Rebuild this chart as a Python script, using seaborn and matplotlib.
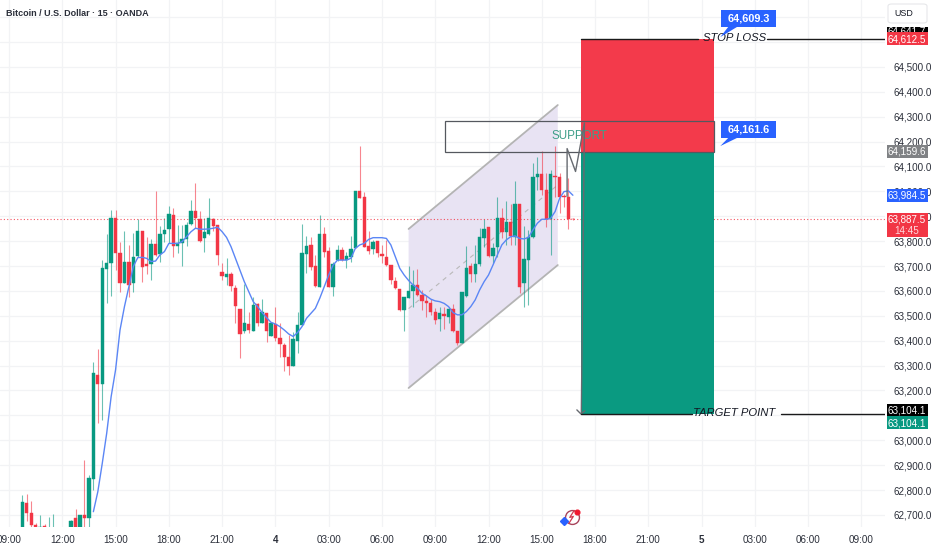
import matplotlib
matplotlib.use('Agg')
import matplotlib.pyplot as plt
from matplotlib.patches import Rectangle, Polygon, FancyBboxPatch
import numpy as np
import pandas as pd
import seaborn as sns

# candles, 15 min bars counted from the first 09:00 tick
first_bar = 3
opens = [62640, 62747, 62706, 62660, 62640, 62656, 62620, 62625, 62590, 62600, 62600,
         62640, 62686, 62640, 62700, 62686, 62843, 63263, 63226,
         63687, 63711, 63893, 63751, 63631, 63715, 63631, 63741, 63842, 63707, 63707, 63789,
         63747, 63829, 63848, 63905, 63782, 63791, 63809, 63868, 63923, 63891, 63811, 63828,
         63889, 63865, 63676, 63657, 63670, 63613, 63526, 63438, 63469, 63438, 63549, 63473,
         63513, 63417, 63466, 63411, 63383, 63335, 63299, 63400,
         63463, 63749, 63785, 63700, 63617, 63830, 63761, 63617, 63724, 63763, 63724, 63738,
         63771, 64000, 63978, 63782, 63767, 63801, 63750, 63738, 63704, 63640, 63609, 63524,
         63570, 63600, 63623, 63583, 63561, 63553, 63516, 63486, 63508, 63494, 63528, 63438,
         63390, 63581, 63700, 63668, 63708, 63811, 63858, 63741, 63778, 63892, 63838, 63877,
         63818, 63949, 63631, 63724, 63818, 64059, 64070, 64006, 63888, 64062, 64059, 63982,
         63979, 63891]
closes = [62751, 62706, 62660, 62640, 62653, 62640, 62630, 62635, 62600, 62610, 62590,
          62677, 62640, 62700, 62689, 62847, 63272, 63226, 63694,
          63711, 63892, 63751, 63633, 63715, 63624, 63738, 63840, 63698, 63700, 63789, 63745,
          63829, 63845, 63909, 63781, 63794, 63807, 63865, 63923, 63892, 63802, 63837, 63893,
          63861, 63745, 63662, 63668, 63620, 63540, 63426, 63473, 63443, 63544, 63473, 63516,
          63441, 63473, 63411, 63387, 63335, 63299, 63407, 63463,
          63754, 63781, 63695, 63620, 63830, 63758, 63617, 63708, 63765, 63724, 63741, 63767,
          64003, 63972, 63778, 63762, 63798, 63754, 63742, 63704, 63644, 63612, 63524, 63577,
          63600, 63623, 63583, 63560, 63553, 63516, 63483, 63510, 63500, 63526, 63439, 63392,
          63597, 63692, 63668, 63707, 63817, 63850, 63741, 63774, 63892, 63838, 63878, 63821,
          63949, 63617, 63730, 63818, 64058, 64070, 64006, 63888, 64071, 64059, 63979, 63979,
          63891, 63887.5]
highs = [62780, 62784, 62757, 62666, 62700, 62664, 62690, 62704, 62620, 62630, 62620,
         62680, 62723, 62700, 62921, 62861, 63316, 63367, 63724,
         63828, 63925, 63925, 63795, 63842, 63785, 63834, 63888, 63842, 63818, 63807, 64003,
         63861, 63892, 63941, 63935, 63865, 63865, 63878, 63965, 64035, 63923, 63892, 63972,
         63892, 63865, 63711, 63731, 63678, 63624, 63526, 63627, 63514, 63577, 63553, 63568,
         63513, 63473, 63534, 63470, 63390, 63423, 63437, 63517,
         63869, 63821, 63816, 63745, 63904, 63858, 63778, 63718, 63785, 63775, 63758, 63821,
         64003, 64182, 63999, 63842, 63805, 63801, 63785, 63805, 63704, 63655, 63609, 63577,
         63700, 63684, 63688, 63604, 63584, 63566, 63530, 63534, 63534, 63537, 63548, 63438,
         63597, 63781, 63714, 63785, 63852, 63888, 63858, 63791, 63979, 63932, 63963, 63949,
         64042, 63949, 63861, 63845, 64115, 64140, 64164, 64073, 64086, 64182, 64075, 63990,
         64052, 63892]
lows = [62620, 62677, 62640, 62620, 62620, 62620, 62610, 62615, 62580, 62590, 62580,
        62630, 62630, 62630, 62640, 62640, 62800, 63068, 63082,
        63553, 63580, 63684, 63597, 63631, 63577, 63595, 63738, 63637, 63668, 63643, 63741,
        63718, 63795, 63791, 63738, 63751, 63702, 63781, 63865, 63852, 63798, 63758, 63825,
        63842, 63704, 63644, 63624, 63601, 63473, 63332, 63433, 63433, 63438, 63459, 63473,
        63396, 63417, 63400, 63333, 63280, 63263, 63299, 63352,
        63463, 63671, 63684, 63617, 63617, 63735, 63617, 63580, 63722, 63722, 63691, 63718,
        63771, 63972, 63778, 63749, 63749, 63735, 63714, 63700, 63627, 63609, 63520, 63441,
        63570, 63537, 63581, 63524, 63494, 63504, 63467, 63441, 63446, 63473, 63437, 63383,
        63390, 63577, 63637, 63637, 63700, 63775, 63738, 63714, 63738, 63811, 63785, 63785,
        63785, 63593, 63534, 63544, 63811, 64006, 63986, 63858, 63745, 63979, 63912, 63939,
        63848, 63887]

# moving average, bars 19 to 127
ma_first_bar = 19
ma_values = [62713, 62793, 62907, 63028, 63175, 63283, 63443, 63537, 63617, 63698, 63734,
             63735, 63731, 63718, 63720, 63745, 63758, 63791, 63791, 63791, 63798, 63818,
             63838, 63852, 63848, 63848, 63849, 63852, 63856, 63838, 63815, 63778, 63731,
             63684, 63637, 63597, 63557, 63537, 63513, 63493, 63474, 63467, 63457, 63443,
             63427, 63417, 63433, 63457, 63490, 63510, 63530, 63571, 63617, 63664, 63704,
             63724, 63724, 63724, 63731, 63771, 63785, 63791, 63807, 63814, 63814, 63814,
             63811, 63785, 63738, 63691, 63664, 63642, 63624, 63611, 63591, 63580, 63567,
             63560, 63557, 63550, 63537, 63513, 63504, 63504, 63517, 63537, 63564, 63604,
             63637, 63664, 63704, 63745, 63785, 63805, 63818, 63821, 63811, 63809, 63815,
             63845, 63872, 63888, 63888, 63892, 63919, 63972, 63999, 64002, 63984.5]

# price scale and time axis
price_ticks = list(range(62700, 64800, 100))
hidden_ticks = [63100, 64600, 64700]
time_ticks = [0, 12, 24, 36, 48, 60, 72, 84, 96, 108, 120, 132, 144, 156, 168, 180, 192]
time_labels = ['09:00', '12:00', '15:00', '18:00', '21:00', '4', '03:00', '06:00', '09:00',
               '12:00', '15:00', '18:00', '21:00', '5', '03:00', '06:00', '09:00']

last_price = 63887.5
ma_last = 63984.5
stop_price = 64612.5
entry_price = 64159.6
target_price = 63104.1
support_top = 64283
support_bottom = 64158

GREEN = '#089981'
RED = '#f23645'
BLUE = '#2962ff'
FONT = 'Liberation Sans'

df = pd.DataFrame({'open': opens, 'high': highs, 'low': lows, 'close': closes})
df['bar'] = np.arange(first_bar, first_bar + len(df))
df['color'] = np.where(df['close'] >= df['open'], GREEN, RED)
ma = pd.DataFrame({'bar': np.arange(ma_first_bar, ma_first_bar + len(ma_values)), 'ma': ma_values})

sns.set_style('white')
fig = plt.figure(figsize=(9.32, 5.5), dpi=100)
ax = fig.add_axes([0, 23 / 550, 885 / 932, 527 / 550])
ax.set_xlim(-2.03, 197.3)
ax.set_ylim(62651.5, 64769)
sns.despine(ax=ax, left=True, bottom=True, right=True, top=True)

ax.set_yticks(price_ticks)
ax.set_yticklabels(['' if p in hidden_ticks else f'{p:,.1f}' for p in price_ticks],
                   fontsize=7.1, family=FONT, color='#2a2e39')
ax.yaxis.tick_right()
ax.set_xticks(time_ticks)
ax.set_xticklabels(time_labels, fontsize=7.1, family=FONT, color='#2a2e39')
ax.tick_params(axis='both', length=0)
ax.tick_params(axis='y', pad=6)
ax.tick_params(axis='x', pad=6)
ax.grid(True, color='#f2f3f5', lw=0.9)
ax.set_axisbelow(True)

# day changes are bold on the chart
for lab in ax.get_xticklabels():
    if lab.get_text() in ('4', '5'):
        lab.set_fontweight('bold')

# channel drawing
ax.add_patch(Polygon([(90, 63849), (123.6, 64347), (123.6, 63704), (90, 63210)],
                     closed=True, fc='#e8e3f3', ec='none', zorder=1))
ax.plot([90, 123.6], [63849, 64347], color='#b4b4b4', lw=1.3, zorder=1.5)
ax.plot([90, 123.6], [63210, 63704], color='#b4b4b4', lw=1.3, zorder=1.5)
ax.plot([90, 123.6], [63529, 64026], color='#b9b9b9', lw=0.8, ls=(0, (4, 4)), zorder=1.5)

# candles
ax.vlines(df['bar'], df['low'], df['high'], colors=df['color'], lw=0.8, alpha=0.6, zorder=2)
body_low = df[['open', 'close']].min(axis=1)
body_h = (df['close'] - df['open']).abs()
ax.bar(df['bar'], body_h, bottom=body_low, width=0.76, color=df['color'],
       edgecolor=df['color'], lw=0.3, zorder=3)

# price line
ax.axhline(last_price, color=RED, lw=0.8, ls=(0, (1, 2)), alpha=0.85, zorder=2.5)

sns.lineplot(data=ma, x='bar', y='ma', color='#5b86f5', lw=1.0, ax=ax, zorder=4)
ax.set_xlabel('')
ax.set_ylabel('')

# long position boxes
ax.add_patch(Rectangle((128.8, entry_price), 30, stop_price - entry_price, fc='#f33a4b', ec='none', zorder=5))
ax.add_patch(Rectangle((128.8, target_price), 30, entry_price - target_price, fc='#0a9a81', ec='none', zorder=5))

# support box
ax.add_patch(Rectangle((98.2, support_bottom), 60.6, support_top - support_bottom,
                       fc='none', ec='#55585f', lw=0.9, zorder=6))
ax.text(122.1, 64222, 'SUPPORT', color='#3f9f89', fontsize=8.4, family=FONT, ha='left', va='center', zorder=7)

# drawn path with arrow head
ax.plot([125.7, 125.7, 127.6, 129.6, 128.9], [63980, 64172, 64080, 64275, 63108],
        color='#666a70', lw=1.0, zorder=7)
ax.plot([127.9, 128.8, 129.7], [63122, 63106, 63118], color='#666a70', lw=1.0, zorder=7)

# stop / target lines
ax.plot([128.8, 155.2], [stop_price, stop_price], color='#1a1a1a', lw=1.0, zorder=7)
ax.plot([170.7, 197.3], [stop_price, stop_price], color='#1a1a1a', lw=1.0, zorder=7)
ax.plot([128.8, 153.8], [target_price, target_price], color='#1a1a1a', lw=1.0, zorder=7)
ax.plot([173.9, 197.3], [target_price, target_price], color='#1a1a1a', lw=1.0, zorder=7)
ax.text(156.2, stop_price + 4, 'STOP LOSS', style='italic', fontsize=8.1, family=FONT,
        color='#131722', ha='left', va='center', zorder=8)
ax.text(154.1, target_price + 4, 'TARGET POINT', style='italic', fontsize=8.1, family=FONT,
        color='#131722', ha='left', va='center', zorder=8)

# blue price callouts
for top_price, tail_price, txt in [(64729, 64620, '64,609.3'), (64283, 64182, '64,161.6')]:
    bot_price = top_price - 68
    ax.add_patch(Rectangle((160.4, bot_price), 12.4, 68, fc=BLUE, ec='none', zorder=9))
    ax.add_patch(Polygon([(160.2, tail_price), (162, bot_price), (164, bot_price)],
                         closed=True, fc=BLUE, ec='none', zorder=9))
    ax.text(166.6, top_price - 34, txt, color='white', fontsize=7.8, fontweight='bold',
            family=FONT, ha='center', va='center', zorder=10)

# small icon near the time axis
ax.plot(126.7, 62692, marker='o', ms=10, mfc='none', mec='#a8455c', mew=1.0, zorder=9)
ax.plot([127.3, 126.3, 127.1, 126.1], [62718, 62690, 62694, 62666], color='#d23a50', lw=0.9, zorder=9)
ax.plot(125.1, 62676, marker='D', ms=3.6, color=BLUE, zorder=10)
ax.plot(128.0, 62712, marker='o', ms=3.4, color='#f0182f', zorder=10)

# title
fig.text(6 / 932, 1 - 13 / 550, 'Bitcoin / U.S. Dollar · 15 · OANDA', fontsize=6.5, family=FONT,
         fontweight='bold', color='#2a2e39', ha='left', va='center')

# tags on the price scale
trans = ax.get_yaxis_transform()
tag_x0 = 886.5 / 885
tag_w = 41 / 885
tags = [(64640, 40, 'black', '64,641.7', 64644),
        (stop_price, 52, RED, '64,612.5', stop_price),
        (entry_price, 52, '#808285', '64,159.6', entry_price),
        (ma_last, 52, BLUE, '63,984.5', ma_last),
        (target_price + 18, 50, 'black', '63,104.1', target_price + 18),
        (target_price - 34, 52, GREEN, '63,104.1', target_price - 34)]
for n, (centre, height, fc, txt, text_y) in enumerate(tags):
    ax.add_patch(Rectangle((tag_x0, centre - height / 2), tag_w, height, transform=trans,
                           fc=fc, ec='none', clip_on=False, zorder=20 + 2 * n))
    ax.text(tag_x0 + tag_w / 2, text_y - 1, txt, transform=trans, color='white', fontsize=7.1, family=FONT,
            ha='center', va='center', clip_on=False, zorder=21 + 2 * n)
ax.add_patch(Rectangle((tag_x0, last_price - 72), tag_w, 98, transform=trans,
                       fc=RED, ec='none', clip_on=False, zorder=40))
ax.text(tag_x0 + tag_w / 2, last_price, '63,887.5', transform=trans, color='white', fontsize=7.1,
        family=FONT, ha='center', va='center', zorder=41)
ax.text(tag_x0 + tag_w / 2, last_price - 47, '14:45', transform=trans, color='#ffd7dc', fontsize=7.1,
        family=FONT, ha='center', va='center', zorder=41)

# currency button
fig.patches.append(FancyBboxPatch((888 / 932, 1 - 23 / 550), 39 / 932, 19 / 550,
                                  boxstyle='round,pad=0,rounding_size=0.004', transform=fig.transFigure,
                                  fc='white', ec='#e6e7ea', lw=0.8))
fig.text(894 / 932, 1 - 14 / 550, 'USD', fontsize=6.4, family=FONT, color='#131722', ha='left', va='center')

fig.savefig('out.png', dpi=100)
